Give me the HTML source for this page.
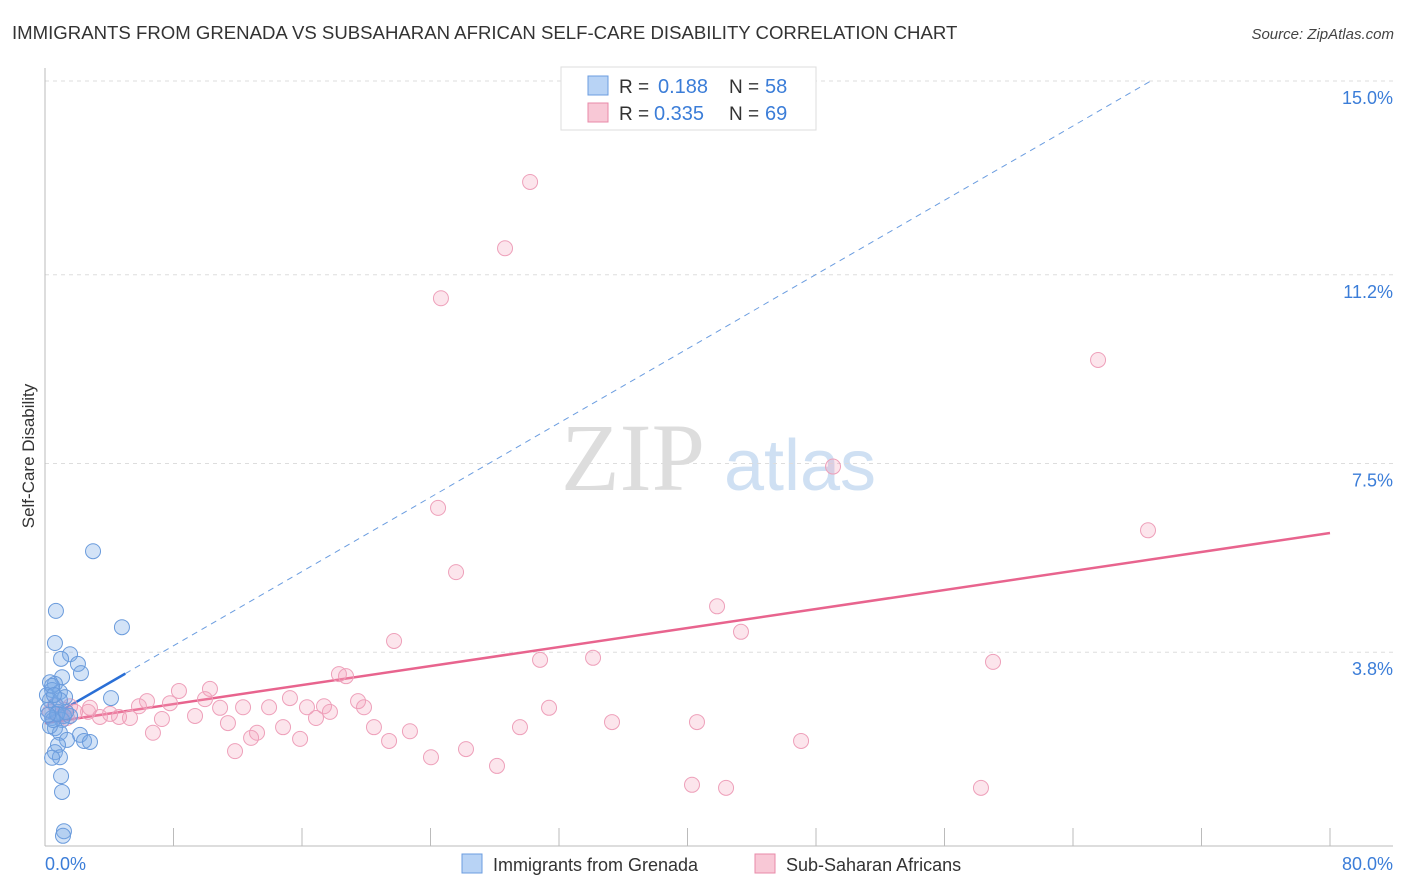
<!DOCTYPE html>
<html><head><meta charset="utf-8"><style>
body{margin:0;background:#fff;font-family:"Liberation Sans",sans-serif}
svg{display:block}
</style></head><body>
<svg id="chart" width="1406" height="892" xmlns="http://www.w3.org/2000/svg" font-family="Liberation Sans, sans-serif">
<text x="12" y="39" font-size="18.6" fill="#333">IMMIGRANTS FROM GRENADA VS SUBSAHARAN AFRICAN SELF-CARE DISABILITY CORRELATION CHART</text>
<text x="1394" y="39" font-size="15" fill="#444" text-anchor="end" font-style="italic">Source: ZipAtlas.com</text>
<text transform="translate(34,456) rotate(-90)" font-size="17" fill="#333" text-anchor="middle">Self-Care Disability</text>
<g><text x="633" y="490" font-size="96" fill="#ddd" font-family="Liberation Serif, serif" text-anchor="middle">ZIP</text><text x="800" y="490" font-size="72" fill="#cfe0f3" text-anchor="middle">atlas</text></g>
<g id="grid"></g><g id="axes"></g><g id="lines"></g><g id="pts"></g>
<g>
<rect x="561" y="67" width="255" height="63" fill="#fff" stroke="#ddd"/>
<rect x="588" y="76" width="20" height="19" fill="#b8d3f5" stroke="#6b9de0"/>
<text x="619" y="93" font-size="19" fill="#333">R =</text><text x="658" y="93" font-size="20" fill="#3b7dd8">0.188</text>
<text x="729" y="93" font-size="19" fill="#333">N =</text><text x="765" y="93" font-size="20" fill="#3b7dd8">58</text>
<rect x="588" y="103" width="20" height="19" fill="#f8c8d6" stroke="#e88aa8"/>
<text x="619" y="120" font-size="19" fill="#333">R =</text><text x="654" y="120" font-size="20" fill="#3b7dd8">0.335</text>
<text x="729" y="120" font-size="19" fill="#333">N =</text><text x="765" y="120" font-size="20" fill="#3b7dd8">69</text>
</g>
<g>
<rect x="462" y="854" width="20" height="19" fill="#b8d3f5" stroke="#6b9de0"/>
<text x="493" y="871" font-size="18" fill="#333">Immigrants from Grenada</text>
<rect x="755" y="854" width="20" height="19" fill="#f8c8d6" stroke="#e88aa8"/>
<text x="786" y="871" font-size="18" fill="#333">Sub-Saharan Africans</text>
</g>
</svg>
<script>
const yTicks=[3.8,7.5,11.2,15.0];
const yTickLabels=["3.8%","7.5%","11.2%","15.0%"];
const xTickCount=10;
const xMax=80, yMax=15.0;
const blueX=[2.99,0.68,4.79,0.62,1.56,1.00,2.05,2.24,1.06,0.31,0.62,0.44,0.93,1.25,4.11,0.31,0.68,0.19,0.81,1.18,0.44,1.56,1.06,0.62,0.93,2.18,1.37,2.43,2.80,0.81,0.62,0.93,0.44,1.00,1.06,1.18,1.12,0.31,0.50,0.12,0.44,0.75,1.31,0.19,0.93,0.56];
const blueY=[5.78,4.61,4.29,3.98,3.76,3.67,3.57,3.39,3.31,3.21,3.18,3.06,3.02,2.92,2.90,2.86,2.76,2.67,2.63,2.55,2.51,2.55,2.47,2.31,2.22,2.18,2.08,2.06,2.04,1.98,1.84,1.74,1.73,1.37,1.06,0.29,0.20,2.35,2.47,2.96,3.14,2.59,2.63,2.57,2.86,2.96];
const pinkX=[30.20,28.64,24.65,65.56,49.06,68.67,24.47,25.59,41.84,43.33,21.73,30.82,34.12,59.02,18.30,18.74,8.34,10.27,15.25,6.35,7.78,9.96,5.85,12.33,13.95,16.31,17.37,19.49,19.86,17.74,16.87,9.34,7.28,5.29,4.61,3.42,4.05,2.68,1.87,1.25,0.93,10.90,11.39,31.38,35.30,40.59,29.57,20.48,22.72,14.82,13.20,6.72,11.83,12.83,15.88,21.42,26.21,24.03,28.14,47.07,40.28,42.40,58.27,0.62,1.56,2.80,0.31,1.37];
const pinkY=[13.02,11.72,10.74,9.53,7.44,6.19,6.63,5.37,4.70,4.20,4.02,3.65,3.69,3.61,3.37,3.33,3.04,3.08,2.90,2.84,2.80,2.88,2.74,2.72,2.72,2.72,2.74,2.84,2.72,2.63,2.51,2.55,2.49,2.51,2.53,2.53,2.59,2.63,2.63,2.67,2.55,2.71,2.41,2.71,2.43,2.43,2.33,2.33,2.25,2.33,2.22,2.22,1.86,2.12,2.10,2.06,1.90,1.74,1.57,2.06,1.20,1.14,1.14,2.76,2.74,2.71,2.63,2.51];
const blueFit=[2.47,0.182];
const pinkFit=[2.41,0.0466];
const X0=45,X1=1330,Y0=846,Y15=81;
const sx=v=>X0+v/xMax*(X1-X0);
const sy=v=>Y0-v/yMax*(Y0-Y15);
const NS="http://www.w3.org/2000/svg";
function mk(p,tag,a){const e=document.createElementNS(NS,tag);for(const k in a)e.setAttribute(k,a[k]);p.appendChild(e);return e;}
const grid=document.getElementById('grid'),axes=document.getElementById('axes'),lines=document.getElementById('lines'),pts=document.getElementById('pts');
yTicks.forEach((t,i)=>{
 const g=mk(grid,'line',{x1:X0,x2:1393,y1:sy(t),y2:sy(t),stroke:'#ddd','stroke-dasharray':'4,4'});
 
 
 const l=mk(axes,'text',{x:1393,y:sy(t)+23,'font-size':18,fill:'#3b7dd8','text-anchor':'end'});
 l.textContent=yTickLabels[i];
 
 
});
const ya=mk(axes,'line',{x1:X0,x2:X0,y1:68,y2:Y0,stroke:'#bbb'});


const xa=mk(axes,'line',{x1:X0,x2:1393,y1:Y0,y2:Y0,stroke:'#bbb'});


for(let i=1;i<=xTickCount;i++){
 const x=sx(xMax*i/xTickCount);
 const t=mk(axes,'line',{x1:x,x2:x,y1:Y0-18,y2:Y0,stroke:'#bbb'});
 
 
}
const xl0=mk(axes,'text',{x:45,y:870,'font-size':18,fill:'#3b7dd8'});xl0.textContent='0.0%';


const xl1=mk(axes,'text',{x:1393,y:870,'font-size':18,fill:'#3b7dd8','text-anchor':'end'});xl1.textContent='80.0%';


const bEnd=(yMax-blueFit[0])/blueFit[1];
const bd=mk(lines,'line',{x1:sx(5),y1:sy(blueFit[0]+blueFit[1]*5),x2:sx(bEnd),y2:sy(yMax),stroke:'#6b9de0','stroke-width':1,'stroke-dasharray':'6,5'});


const bs=mk(lines,'line',{x1:sx(0.2),y1:sy(blueFit[0]+blueFit[1]*0.2),x2:sx(5),y2:sy(blueFit[0]+blueFit[1]*5),stroke:'#2a6fd6','stroke-width':2.5});


const ps=mk(lines,'line',{x1:sx(0),y1:sy(pinkFit[0]),x2:sx(xMax),y2:sy(pinkFit[0]+pinkFit[1]*xMax),stroke:'#e8648e','stroke-width':2.5});


pinkX.forEach((v,i)=>{
 const c=mk(pts,'circle',{cx:sx(v),cy:sy(pinkY[i]),r:7.5,fill:'rgba(244,160,188,0.28)',stroke:'#eea0ba','stroke-width':1});
 
 
});
blueX.forEach((v,i)=>{
 const c=mk(pts,'circle',{cx:sx(v),cy:sy(blueY[i]),r:7.5,fill:'rgba(120,170,232,0.33)',stroke:'#6a9bdc','stroke-width':1});
 
 
});
</script>
</body></html>
